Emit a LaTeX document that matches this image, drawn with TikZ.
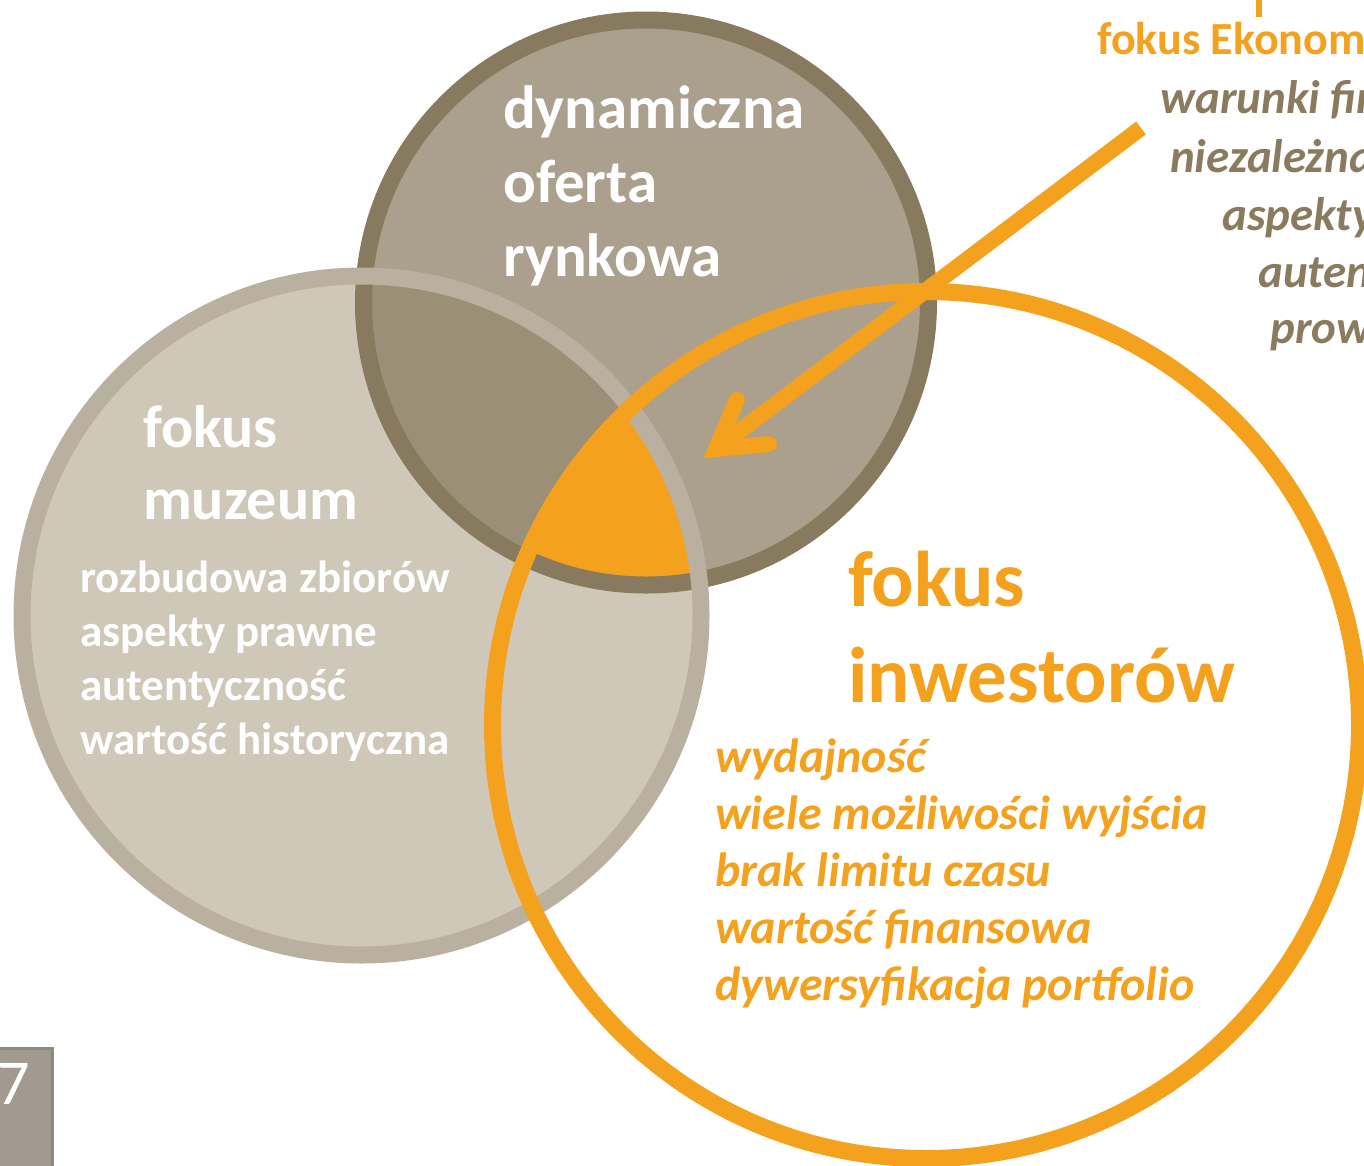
\documentclass[tikz,border=0pt]{standalone}
\usepackage{fontspec}
\setmainfont{Carlito}
\usetikzlibrary{positioning}
\definecolor{Sand}{HTML}{ABA08D}
\definecolor{Umber}{HTML}{887A5E}
\definecolor{Linen}{HTML}{CFC7B8}
\definecolor{Stone}{HTML}{BAB09F}
\definecolor{Taupe}{HTML}{9C8F78}
\definecolor{Amber}{HTML}{F4A11E}
\definecolor{Bark}{HTML}{8A7B5E}
\definecolor{TabGray}{HTML}{A29A8E}
\definecolor{TabEdge}{HTML}{8D8A86}
\tikzset{
    ring/.style={line width=17pt},
    lbl/.style={anchor=base west, inner sep=0pt, align=left},
}

\begin{document}
\begin{tikzpicture}[x=1pt, y=-1pt]
    \useasboundingbox (0,0) rectangle (1364,1165);
    \clip (0,0) rectangle (1364,1165);

    % Circle centres
    \coordinate (oferta) at (646,302.5);
    \coordinate (muzeum) at (361.5,615.5);
    \coordinate (inwest) at (926,725);

    % Fills and overlaps
    \fill[Linen] (muzeum) circle[radius=339.5pt];
    \fill[Sand] (oferta) circle[radius=282.5pt];
    \begin{scope}
        \clip (muzeum) circle[radius=339.5pt];
        \fill[Taupe] (oferta) circle[radius=282.5pt];
        \clip (oferta) circle[radius=282.5pt];
        \fill[Amber] (inwest) circle[radius=433.5pt];
    \end{scope}

    % Rings
    \draw[ring, Umber] (oferta) circle[radius=282.5pt];
    \draw[ring, Stone] (muzeum) circle[radius=339.5pt];
    \draw[ring, Amber] (inwest) circle[radius=433.5pt];

    % Circle labels (placed at the baseline of their last line)
    \node[lbl, text=white, font=\bfseries\fontsize{61}{74}\selectfont] (oferLbl) at (503,276)
        {dynamiczna\\oferta\\rynkowa};
    \node[lbl, text=white, font=\bfseries\fontsize{60}{72}\selectfont] (muzLbl) at (143,519)
        {fokus\\muzeum};
    \node[lbl, text=white, font=\bfseries\fontsize{45}{54}\selectfont] (muzList) at (80,754)
        {rozbudowa zbiorów\\aspekty prawne\\autentyczność\\wartość historyczna};
    \node[lbl, text=Amber, font=\bfseries\fontsize{79}{96}\selectfont] (invLbl) at (848,702)
        {fokus\\inwestorów};
    \node[lbl, text=Amber, font=\bfseries\itshape\fontsize{48}{57}\selectfont] (invList) at (715,1000)
        {wydajność\\wiele możliwości wyjścia\\brak limitu czasu\\wartość finansowa\\dywersyfikacja portfolio};

    % Right-hand block, cut by the page edge
    \draw[Amber, line width=6pt] (1259,-5) -- (1259,17);
    \node[lbl, text=Amber, font=\bfseries\fontsize{46}{56}\selectfont] (econHead) at (1097,54)
        {fokus Ekonomisty};
    \foreach \xx/\yy/\txt [count=\i] in {1160/113/warunki finansowe, 1170/172/niezależna wycena,
            1222/230/aspekty prawne, 1258/287/autentyczność, 1270/343/proweniencja}
        \node[lbl, text=Bark, font=\bfseries\itshape\fontsize{47}{57}\selectfont] (econ\i) at (\xx,\yy) {\txt};

    % Arrow into the overlap
    \coordinate (arrStart) at (1141,128);
    \coordinate (arrTip) at (716,449);
    \coordinate (barbA) at (737,400);
    \coordinate (barbB) at (769,444);
    \draw[Amber, line width=16pt] (arrStart) -- (arrTip);
    \draw[Amber, line width=16pt, line cap=round, line join=miter] (barbA) -- (arrTip) -- (barbB);

    % Page tab
    \filldraw[fill=TabGray, draw=TabEdge, line width=3pt] (-10,1048) rectangle (52.5,1180);
    \node[anchor=base west, inner sep=0pt, text=white, font=\fontsize{64}{76}\selectfont] (pageNo) at (-3,1104) {7};
\end{tikzpicture}
\end{document}
